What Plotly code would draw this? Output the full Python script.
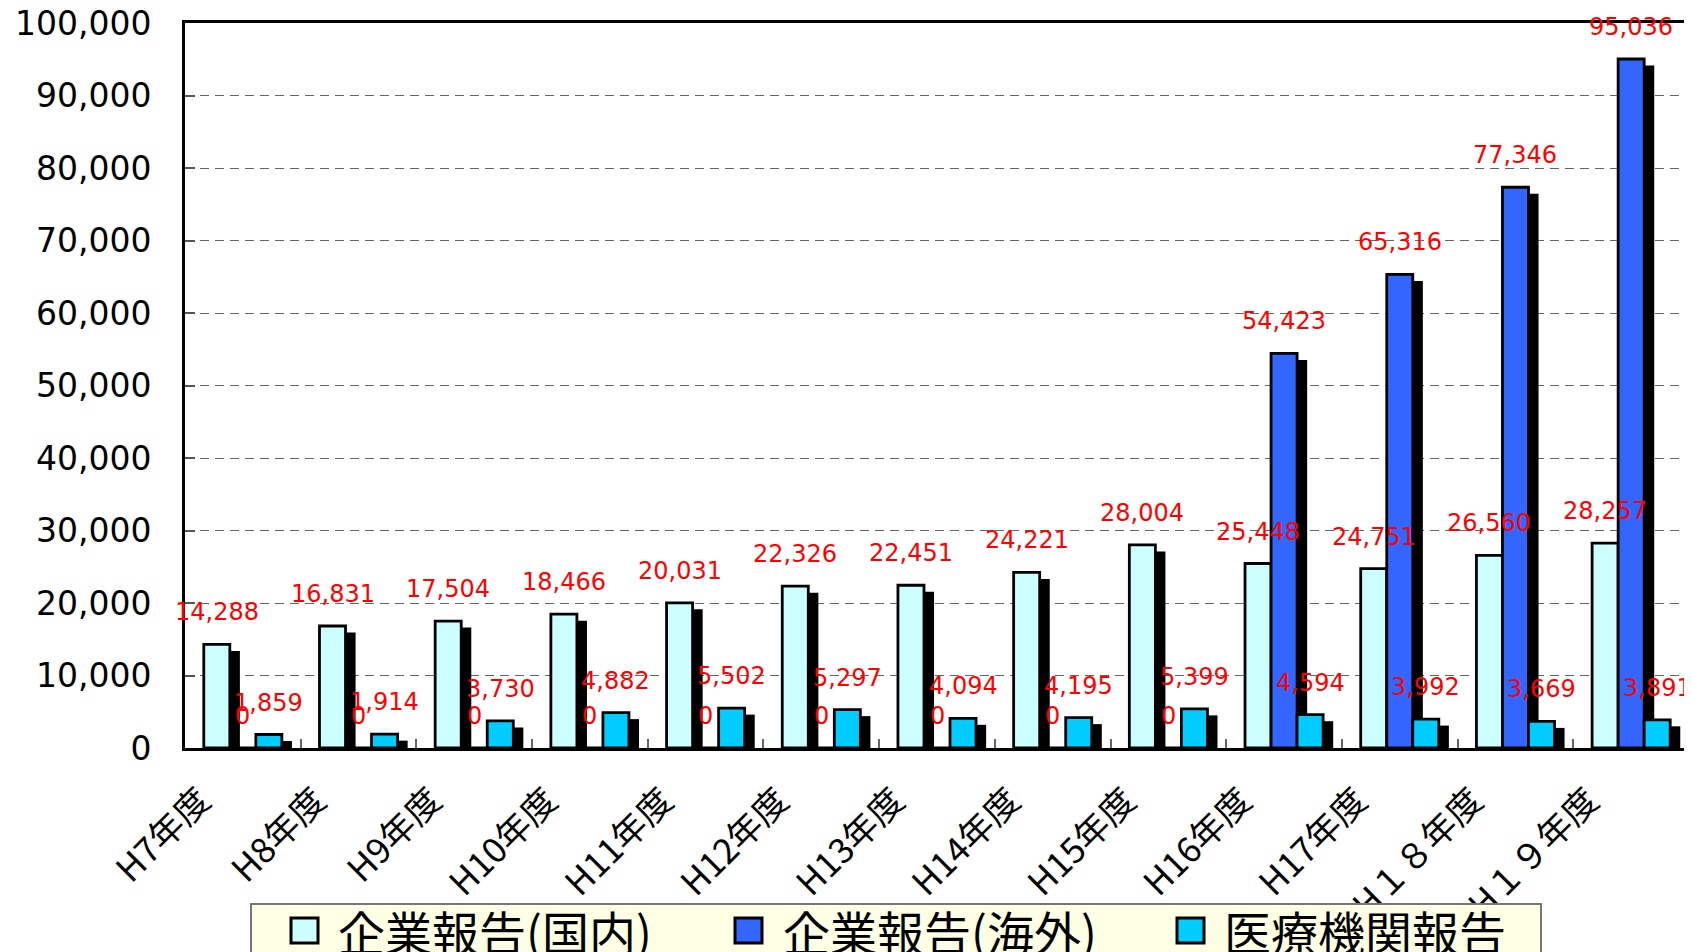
import plotly.graph_objects as go

# ---- data ----
categories = ["H7年度", "H8年度", "H9年度", "H10年度", "H11年度", "H12年度", "H13年度",
              "H14年度", "H15年度", "H16年度", "H17年度", "H１８年度", "H１９年度"]
domestic = [14288, 16831, 17504, 18466, 20031, 22326, 22451, 24221, 28004, 25448, 24751, 26560, 28257]
overseas = [0, 0, 0, 0, 0, 0, 0, 0, 0, 54423, 65316, 77346, 95036]
medical = [1859, 1914, 3730, 4882, 5502, 5297, 4094, 4195, 5399, 4594, 3992, 3669, 3891]
series_names = ["企業報告(国内)", "企業報告(海外)", "医療機関報告"]
y_ticks = [0, 10000, 20000, 30000, 40000, 50000, 60000, 70000, 80000, 90000, 100000]

# ---- style ----
colors = ["#CCFFFF", "#3366FF", "#00CCFF"]
PAGE_OFF = 8                      # browser body margin
PAGE_W, PAGE_H = 1692, 952
W, H = PAGE_W - PAGE_OFF, PAGE_H - PAGE_OFF
# plot area in page pixels
PX0, PX1, PY0, PY1 = 185, 1689, 23, 748
L, T = PX0 - PAGE_OFF, PY0 - PAGE_OFF
R, B = PAGE_W - PX1, PAGE_H - PY1
PW, PH = PX1 - PX0, PY1 - PY0

bar_w = 0.225
offsets = [-0.3375, -0.1125, 0.1125]
shadow_dx = 0.087
shadow_dy = 900

def px_x(px):
    return (px - PX0) / PW

def px_y(py):
    return (PY1 - py) / PH

x = list(range(len(categories)))
fig = go.Figure()
series = [domestic, overseas, medical]
for vals, off, col, name in zip(series, offsets, colors, series_names):
    fig.add_trace(go.Bar(x=x, y=[max(v - shadow_dy, 0) for v in vals], width=bar_w,
                         offset=off + shadow_dx, marker=dict(color="black", line=dict(width=0)),
                         showlegend=False, hoverinfo="skip"))
    fig.add_trace(go.Bar(x=x, y=vals, width=bar_w, offset=off,
                         marker=dict(color=col, line=dict(color="black", width=2.8)),
                         name=name, showlegend=False))

# invisible trace to carry category label axis
fig.add_trace(go.Scatter(x=[0], y=[0], xaxis="x2", mode="markers",
                         marker=dict(opacity=0), showlegend=False, hoverinfo="skip"))

annotations = []
for vals, off in zip(series, offsets):
    for i, v in enumerate(vals):
        annotations.append(dict(x=i + off + bar_w / 2, y=v, xref="x", yref="y",
                                text=f"{v:,}", showarrow=False, yshift=32,
                                font=dict(family="DejaVu Sans", size=24, color="#FF0000")))

shapes = []
# right border and top extension
shapes.append(dict(type="line", xref="paper", yref="paper", x0=1, x1=1, y0=0, y1=1,
                   line=dict(color="#888888", width=1.5)))
shapes.append(dict(type="line", xref="paper", yref="paper", x0=1, x1=px_x(PAGE_W), y0=1, y1=1,
                   line=dict(color="black", width=3)))
# legend box
shapes.append(dict(type="rect", xref="paper", yref="paper", x0=px_x(251), x1=px_x(1541),
                   y0=px_y(1010), y1=px_y(904), fillcolor="#FFFFE5",
                   line=dict(color="#777777", width=2)))
leg_marker_x = [291, 735, 1177]
leg_text_x = [336, 781, 1222]
for mx, tx, col, name in zip(leg_marker_x, leg_text_x, colors, series_names):
    shapes.append(dict(type="rect", xref="paper", yref="paper", x0=px_x(mx), x1=px_x(mx + 27),
                       y0=px_y(943), y1=px_y(918), fillcolor=col,
                       line=dict(color="black", width=3)))
    annotations.append(dict(x=px_x(tx), y=px_y(930), xref="paper", yref="paper", text=name,
                            showarrow=False, xanchor="left", yanchor="middle",
                            font=dict(family="Noto Sans CJK JP", size=47, color="black")))

fig.update_layout(
    width=W, height=H,
    margin=dict(l=L, r=R, t=T, b=B, pad=0, autoexpand=False),
    paper_bgcolor="white", plot_bgcolor="white",
    barmode="overlay",
    showlegend=False,
    xaxis=dict(range=[-0.5, len(categories) - 0.5], tickvals=[i + 0.5 for i in range(len(categories) - 1)],
               ticks="inside", ticklen=9, tickcolor="#666666", tickwidth=1.5,
               showticklabels=False, showline=True, linecolor="black", linewidth=3,
               mirror=True, showgrid=False, zeroline=False, automargin=False),
    xaxis2=dict(overlaying="x", anchor="y", side="bottom",
                range=[-0.5, len(categories) - 0.5],
                tickvals=[i - 0.37 for i in x], ticktext=categories,
                tickangle=-45, ticks="", showline=False, showgrid=False, zeroline=False,
                ticklabelstandoff=24, automargin=False, ticklabeloverflow="allow",
                tickfont=dict(family="Noto Sans CJK JP", size=35, color="black")),
    yaxis=dict(range=[0, 100000], tickvals=y_ticks, tickformat=",",
               ticks="inside", ticklen=10, tickcolor="#555555", tickwidth=1.5,
               showgrid=True, gridcolor="#666666", griddash="9px,6px", gridwidth=1,
               showline=True, linecolor="black", linewidth=3, zeroline=False,
               ticklabelstandoff=24, automargin=False, ticklabeloverflow="allow",
               tickfont=dict(family="DejaVu Sans", size=33, color="black")),
    annotations=annotations,
    shapes=shapes,
)

fig.write_html("out.html")
